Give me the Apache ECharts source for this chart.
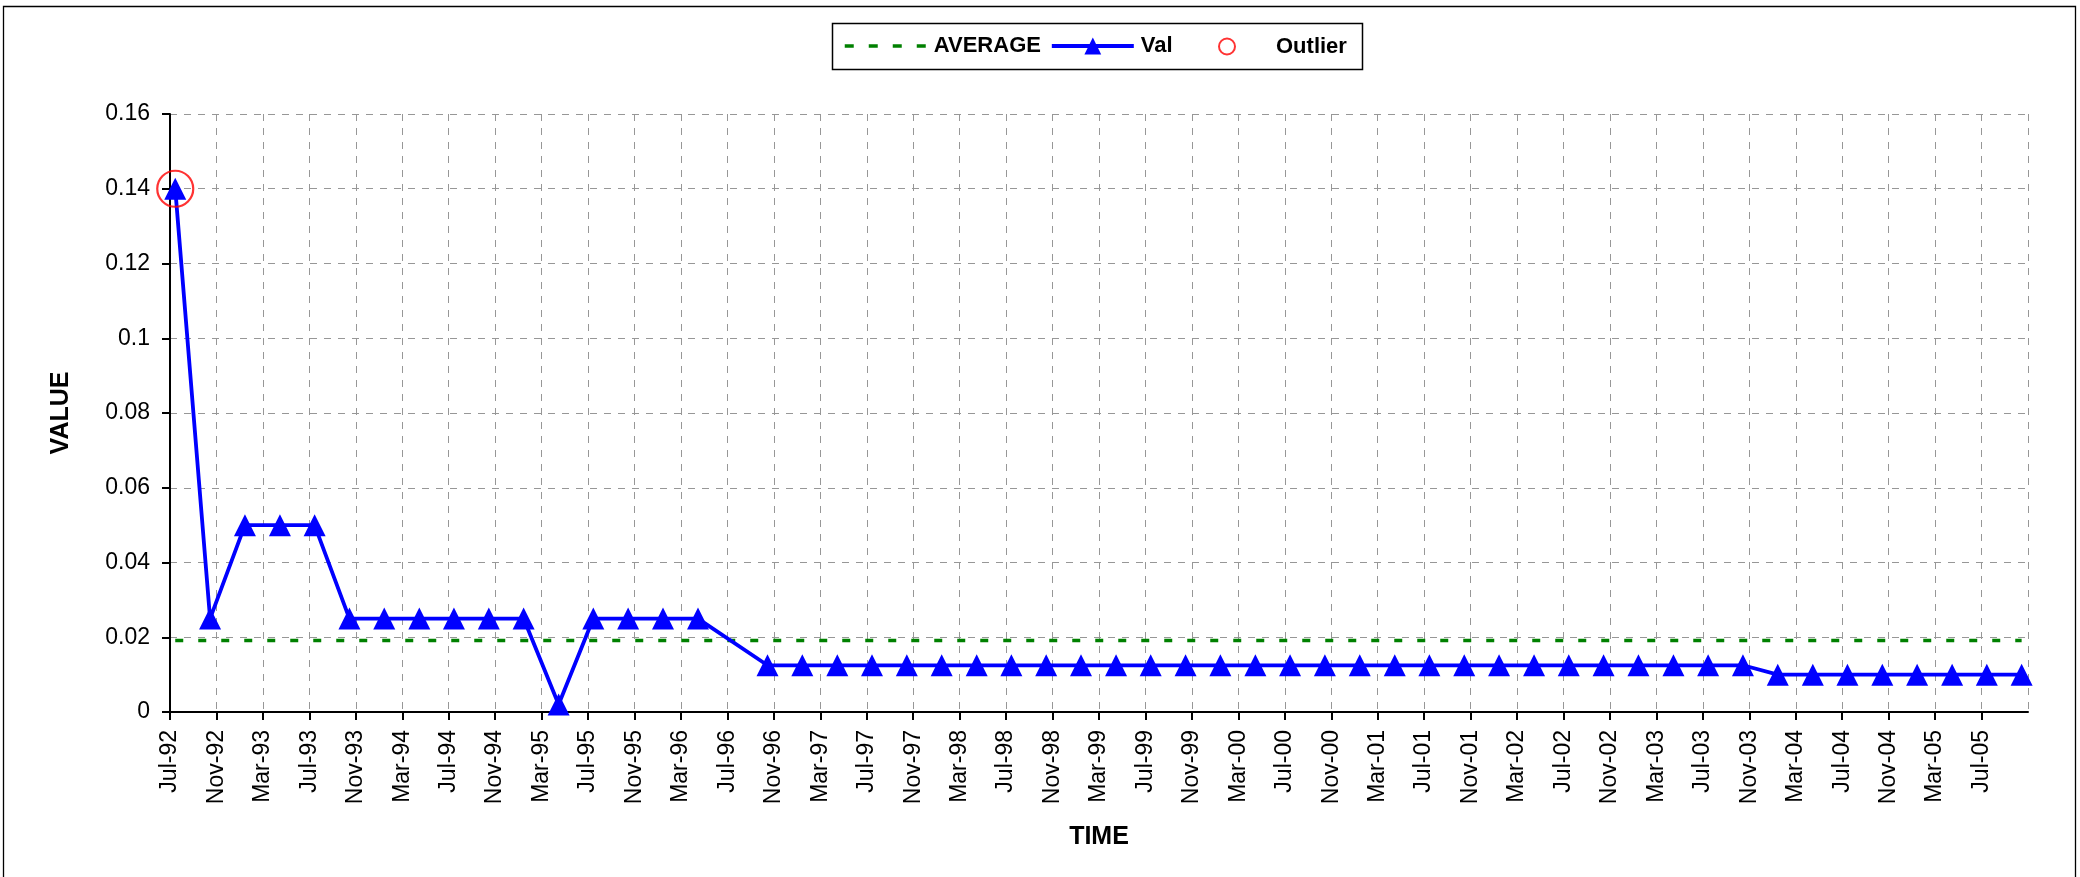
<!DOCTYPE html>
<html>
<head>
<meta charset="utf-8">
<script src="https://cdn.jsdelivr.net/npm/echarts@6/dist/echarts.min.js"></script>
<style>
html,body{margin:0;padding:0;background:#fff;}
#chart{width:2080px;height:877px;}
</style>
</head>
<body>
<div id="chart"></div>
<script>
// ---- data ----
const axisStart = '1992-07-01';
const tickLabels = ['Jul-92','Nov-92','Mar-93','Jul-93','Nov-93','Mar-94','Jul-94','Nov-94','Mar-95','Jul-95',
  'Nov-95','Mar-96','Jul-96','Nov-96','Mar-97','Jul-97','Nov-97','Mar-98','Jul-98','Nov-98',
  'Mar-99','Jul-99','Nov-99','Mar-00','Jul-00','Nov-00','Mar-01','Jul-01','Nov-01','Mar-02',
  'Jul-02','Nov-02','Mar-03','Jul-03','Nov-03','Mar-04','Jul-04','Nov-04','Mar-05','Jul-05',''];
const dates = [
  '1992-07-15','1992-10-15',
  '1993-01-15','1993-04-15','1993-07-15','1993-10-15',
  '1994-01-15','1994-04-15','1994-07-15','1994-10-15',
  '1995-01-15','1995-04-15','1995-07-15','1995-10-15',
  '1996-01-15','1996-04-15','1996-10-15',
  '1997-01-15','1997-04-15','1997-07-15','1997-10-15',
  '1998-01-15','1998-04-15','1998-07-15','1998-10-15',
  '1999-01-15','1999-04-15','1999-07-15','1999-10-15',
  '2000-01-15','2000-04-15','2000-07-15','2000-10-15',
  '2001-01-15','2001-04-15','2001-07-15','2001-10-15',
  '2002-01-15','2002-04-15','2002-07-15','2002-10-15',
  '2003-01-15','2003-04-15','2003-07-15','2003-10-15',
  '2004-01-15','2004-04-15','2004-07-15','2004-10-15',
  '2005-01-15','2005-04-15','2005-07-15','2005-10-15'
];
const values = [
  0.14, 0.025,
  0.05, 0.05, 0.05, 0.025,
  0.025, 0.025, 0.025, 0.025,
  0.025, 0.002, 0.025, 0.025,
  0.025, 0.025, 0.0125,
  0.0125, 0.0125, 0.0125, 0.0125,
  0.0125, 0.0125, 0.0125, 0.0125,
  0.0125, 0.0125, 0.0125, 0.0125,
  0.0125, 0.0125, 0.0125, 0.0125,
  0.0125, 0.0125, 0.0125, 0.0125,
  0.0125, 0.0125, 0.0125, 0.0125,
  0.0125, 0.0125, 0.0125, 0.0125,
  0.01, 0.01, 0.01, 0.01,
  0.01, 0.01, 0.01, 0.01
];
const averageValue = 0.0191;
const outlierDates = ['1992-07-15'];
const outlierValues = [0.14];

// ---- helpers: date -> months since axis start ----
function monthsFromStart(s) {
  const [y, m, d] = s.split('-').map(Number);
  const [y0, m0] = axisStart.split('-').map(Number);
  const dim = new Date(Date.UTC(y, m, 0)).getUTCDate();
  return (y - y0) * 12 + (m - m0) + (d - 1) / dim;
}
const valData = dates.map((d, i) => [monthsFromStart(d), values[i]]);
const avgData = dates.map(d => [monthsFromStart(d), averageValue]);
const outData = outlierDates.map((d, i) => [monthsFromStart(d), outlierValues[i]]);

const FONT = "'Liberation Sans', Arial, sans-serif";
const gridLine = { show: true, lineStyle: { color: '#979797', width: 1, type: [7, 7] } };
const legendText = { fontFamily: FONT, fontSize: 22, fontWeight: 'bold', color: '#000' };

const chart = echarts.init(document.getElementById('chart'), null, { renderer: 'canvas' });
chart.setOption({
  animation: false,
  backgroundColor: '#ffffff',
  graphic: [
    {
      type: 'rect', z: -10, silent: true,
      shape: { x: 3.5, y: 6.5, width: 2072, height: 900 },
      style: { fill: 'none', stroke: '#000', lineWidth: 1.3 }
    },
    {
      type: 'rect', z: -5, silent: true,
      shape: { x: 832.5, y: 23.5, width: 530, height: 46 },
      style: { fill: '#fff', stroke: '#000', lineWidth: 1.5 }
    }
  ],
  legend: [
    {
      left: 843, top: 35, padding: 0,
      itemWidth: 82, itemHeight: 21, itemGap: 9,
      textStyle: Object.assign({ padding: [0, 0, 0, 2] }, legendText),
      data: [
        { name: 'AVERAGE', itemStyle: { color: 'rgba(0,0,0,0)', borderWidth: 0 },
          lineStyle: { color: '#008000', width: 3.5, type: [9, 15] } },
        { name: 'Val', lineStyle: { color: '#0000ff', width: 3.8 } }
      ]
    },
    {
      left: 1218, top: 35.5, padding: 0,
      itemWidth: 16, itemHeight: 16,
      textStyle: Object.assign({ padding: [0, 0, 0, 36] }, legendText),
      data: ['Outlier']
    }
  ],
  grid: { left: 170, right: 52, top: 114, bottom: 165, containLabel: false },
  xAxis: {
    type: 'value', min: 0, max: 160, interval: 4,
    name: 'TIME', nameLocation: 'middle', nameGap: 113,
    nameTextStyle: { fontFamily: FONT, fontSize: 25, fontWeight: 'bold', color: '#000' },
    axisLine: { show: true, onZero: false, lineStyle: { color: '#000', width: 2 } },
    axisTick: { show: true, inside: false, length: 8, lineStyle: { color: '#000', width: 2 } },
    axisLabel: {
      rotate: 90, margin: 18, showMaxLabel: false,
      fontFamily: FONT, fontSize: 23, color: '#000',
      formatter: v => tickLabels[Math.round(v / 4)] || ''
    },
    splitLine: gridLine
  },
  yAxis: {
    type: 'value', min: 0, max: 0.16, interval: 0.02,
    name: 'VALUE', nameLocation: 'middle', nameGap: 96, nameRotate: 90,
    nameTextStyle: { fontFamily: FONT, fontSize: 25, fontWeight: 'bold', color: '#000' },
    axisLine: { show: true, lineStyle: { color: '#000', width: 2 } },
    axisTick: { show: true, inside: false, length: 8, lineStyle: { color: '#000', width: 2 } },
    axisLabel: {
      margin: 20, fontFamily: FONT, fontSize: 23, color: '#000',
      formatter: v => String(+v.toFixed(4))
    },
    splitLine: gridLine
  },
  series: [
    {
      name: 'AVERAGE', type: 'line', data: avgData,
      showSymbol: false, symbol: 'none', z: 2,
      lineStyle: { color: '#008000', width: 3.5, type: [8, 15] },
      itemStyle: { color: '#008000' }
    },
    {
      name: 'Val', type: 'line', data: valData, z: 3,
      symbol: 'triangle', symbolSize: [22, 22], showAllSymbol: true,
      lineStyle: { color: '#0000ff', width: 3.8 },
      itemStyle: { color: '#0000ff' }
    },
    {
      name: 'Outlier', type: 'scatter', data: outData, z: 4,
      symbol: 'circle', symbolSize: 36,
      itemStyle: { color: 'rgba(255,255,255,0)', borderColor: '#ff0000', borderWidth: 2.2 }
    }
  ]
});
</script>
</body>
</html>
